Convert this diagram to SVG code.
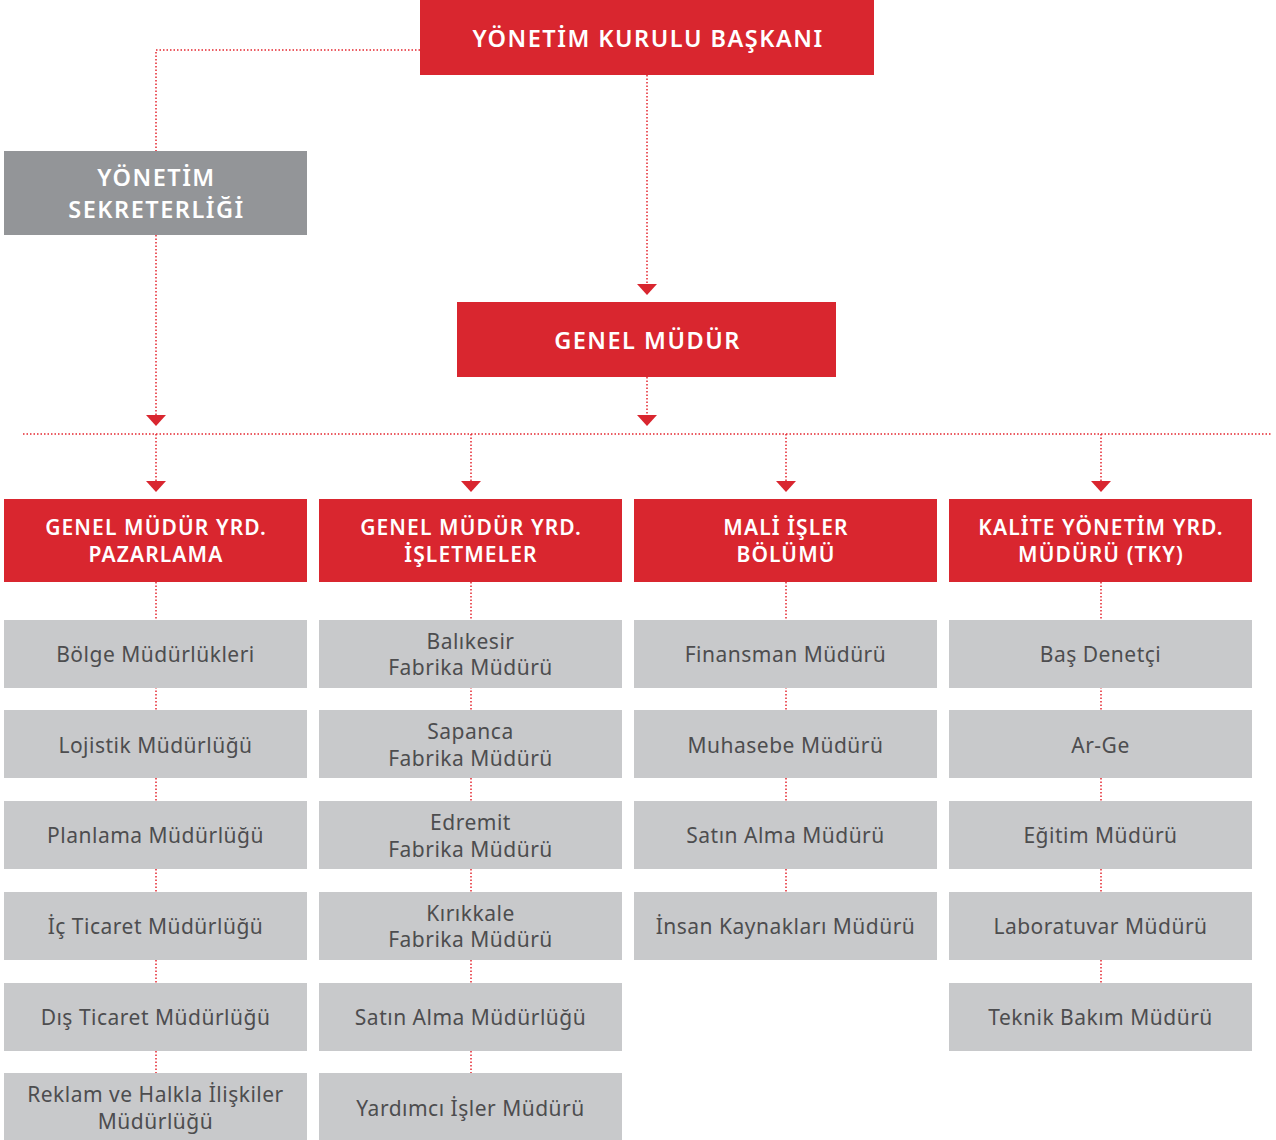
<svg xmlns="http://www.w3.org/2000/svg" xmlns:xlink="http://www.w3.org/1999/xlink" width="1276" height="1140" viewBox="0 0 1276 1140">
<style>
.red{fill:#d9262f}
.dg{fill:#939598}
.lg{fill:#c8c9cb}
.ht{font-family:"Noto Sans","Liberation Sans",sans-serif;font-weight:600;fill:#fff;text-anchor:middle;font-size:21px;letter-spacing:1.1px}
.big{font-size:23.5px;letter-spacing:1.5px}
.gt{font-family:"Noto Sans","Liberation Sans",sans-serif;fill:#4d4d4f;text-anchor:middle;font-size:21px;letter-spacing:0.5px}
.dot{fill:none;stroke:#e5262f;stroke-width:1.5;stroke-dasharray:1.5 2}
</style>
<defs>
<path id="arr" d="M-10,-11 L10,-11 L0,0 Z" fill="#d9262f"/>
</defs>
<g id="connectors">
<path class="dot" d="M420,50 H156 V151"/>
<path class="dot" d="M156,235 V415"/>
<path class="dot" d="M647,75 V284"/>
<path class="dot" d="M647,377 V415"/>
<path class="dot" d="M23,434 H1272"/>
<path class="dot" d="M156,434 V481 M471,434 V481 M786,434 V481 M1101,434 V481"/>
<path class="dot" d="M156,582 V1073 M471,582 V1073 M786,582 V892 M1101,582 V983"/>
<use xlink:href="#arr" x="647" y="295"/>
<use xlink:href="#arr" x="156" y="426"/>
<use xlink:href="#arr" x="647" y="426"/>
<use xlink:href="#arr" x="156" y="492"/>
<use xlink:href="#arr" x="471" y="492"/>
<use xlink:href="#arr" x="786" y="492"/>
<use xlink:href="#arr" x="1101" y="492"/>
</g>
<g id="n-baskan"><rect class="red" x="420" y="0" width="454" height="75"/><text class="ht big" x="648" y="47">YÖNETİM KURULU BAŞKANI</text></g>
<g id="n-sekreterlik"><rect class="dg" x="4" y="151" width="303" height="84"/><text class="ht big" x="156.5" y="186">YÖNETİM</text><text class="ht big" x="156.5" y="218">SEKRETERLİĞİ</text></g>
<g id="n-genelmudur"><rect class="red" x="457" y="302" width="379" height="75"/><text class="ht big" x="647.5" y="349">GENEL MÜDÜR</text></g>
<g id="n-pazarlama"><rect class="red" x="4" y="499" width="303" height="83"/><text class="ht" x="156" y="535">GENEL MÜDÜR YRD.</text><text class="ht" x="156" y="562">PAZARLAMA</text></g>
<g id="n-isletmeler"><rect class="red" x="319" y="499" width="303" height="83"/><text class="ht" x="471" y="535">GENEL MÜDÜR YRD.</text><text class="ht" x="471" y="562">İŞLETMELER</text></g>
<g id="n-mali"><rect class="red" x="634" y="499" width="303" height="83"/><text class="ht" x="786" y="535">MALİ İŞLER</text><text class="ht" x="786" y="562">BÖLÜMÜ</text></g>
<g id="n-kalite"><rect class="red" x="949" y="499" width="303" height="83"/><text class="ht" x="1101" y="535">KALİTE YÖNETİM YRD.</text><text class="ht" x="1101" y="562">MÜDÜRÜ (TKY)</text></g>

<g id="n-bolge"><rect class="lg" x="4" y="620" width="303" height="68"/><text class="gt" x="155.5" y="662">Bölge Müdürlükleri</text></g>
<g id="n-lojistik"><rect class="lg" x="4" y="710" width="303" height="68"/><text class="gt" x="155.5" y="753">Lojistik Müdürlüğü</text></g>
<g id="n-planlama"><rect class="lg" x="4" y="801" width="303" height="68"/><text class="gt" x="155.5" y="843">Planlama Müdürlüğü</text></g>
<g id="n-icticaret"><rect class="lg" x="4" y="892" width="303" height="68"/><text class="gt" x="155.5" y="934">İç Ticaret Müdürlüğü</text></g>
<g id="n-disticaret"><rect class="lg" x="4" y="983" width="303" height="68"/><text class="gt" x="155.5" y="1025">Dış Ticaret Müdürlüğü</text></g>
<g id="n-reklam"><rect class="lg" x="4" y="1073" width="303" height="67"/><text class="gt" x="155.5" y="1102">Reklam ve Halkla İlişkiler</text><text class="gt" x="155.5" y="1129">Müdürlüğü</text></g>

<g id="n-balikesir"><rect class="lg" x="319" y="620" width="303" height="68"/><text class="gt" x="470.5" y="649">Balıkesir</text><text class="gt" x="470.5" y="675">Fabrika Müdürü</text></g>
<g id="n-sapanca"><rect class="lg" x="319" y="710" width="303" height="68"/><text class="gt" x="470.5" y="739">Sapanca</text><text class="gt" x="470.5" y="766">Fabrika Müdürü</text></g>
<g id="n-edremit"><rect class="lg" x="319" y="801" width="303" height="68"/><text class="gt" x="470.5" y="830">Edremit</text><text class="gt" x="470.5" y="857">Fabrika Müdürü</text></g>
<g id="n-kirikkale"><rect class="lg" x="319" y="892" width="303" height="68"/><text class="gt" x="470.5" y="921">Kırıkkale</text><text class="gt" x="470.5" y="947">Fabrika Müdürü</text></g>
<g id="n-satinalma-l"><rect class="lg" x="319" y="983" width="303" height="68"/><text class="gt" x="470.5" y="1025">Satın Alma Müdürlüğü</text></g>
<g id="n-yardimci"><rect class="lg" x="319" y="1073" width="303" height="67"/><text class="gt" x="470.5" y="1116">Yardımcı İşler Müdürü</text></g>

<g id="n-finansman"><rect class="lg" x="634" y="620" width="303" height="68"/><text class="gt" x="785.5" y="662">Finansman Müdürü</text></g>
<g id="n-muhasebe"><rect class="lg" x="634" y="710" width="303" height="68"/><text class="gt" x="785.5" y="753">Muhasebe Müdürü</text></g>
<g id="n-satinalma-m"><rect class="lg" x="634" y="801" width="303" height="68"/><text class="gt" x="785.5" y="843">Satın Alma Müdürü</text></g>
<g id="n-insan"><rect class="lg" x="634" y="892" width="303" height="68"/><text class="gt" x="785.5" y="934">İnsan Kaynakları Müdürü</text></g>

<g id="n-basdenetci"><rect class="lg" x="949" y="620" width="303" height="68"/><text class="gt" x="1100.5" y="662">Baş Denetçi</text></g>
<g id="n-arge"><rect class="lg" x="949" y="710" width="303" height="68"/><text class="gt" x="1100.5" y="753">Ar-Ge</text></g>
<g id="n-egitim"><rect class="lg" x="949" y="801" width="303" height="68"/><text class="gt" x="1100.5" y="843">Eğitim Müdürü</text></g>
<g id="n-lab"><rect class="lg" x="949" y="892" width="303" height="68"/><text class="gt" x="1100.5" y="934">Laboratuvar Müdürü</text></g>
<g id="n-teknik"><rect class="lg" x="949" y="983" width="303" height="68"/><text class="gt" x="1100.5" y="1025">Teknik Bakım Müdürü</text></g>
</svg>
